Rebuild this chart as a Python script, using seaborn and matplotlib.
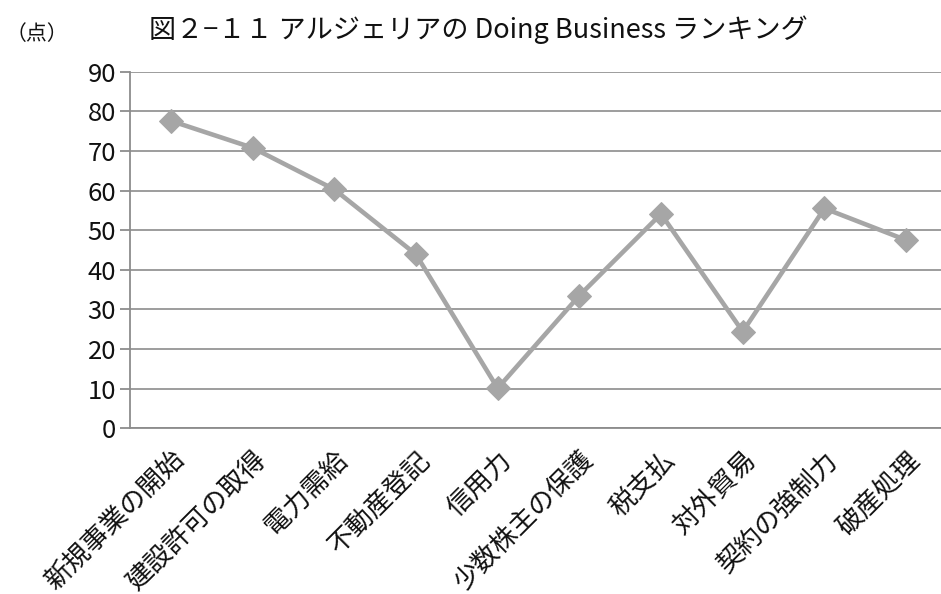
import matplotlib
matplotlib.use("Agg")
import matplotlib.pyplot as plt
import seaborn as sns
import pandas as pd
import numpy as np

categories = ["新規事業の開始", "建設許可の取得", "電力需給", "不動産登記", "信用力",
              "少数株主の保護", "税支払", "対外貿易", "契約の強制力", "破産処理"]
scores = [77.6, 70.8, 60.3, 43.9, 10.1, 33.5, 54.1, 24.4, 55.5, 47.5]
y_ticks = [0, 10, 20, 30, 40, 50, 60, 70, 80, 90]
title = "図２−１１ アルジェリアの Doing Business ランキング"
unit_label = "（点）"

sns.set_theme(style="white")
plt.rcParams['font.family'] = ['Noto Sans CJK JP', 'DejaVu Sans']

df = pd.DataFrame({"category": categories, "score": scores})

fig = plt.figure(figsize=(9.41, 5.94), dpi=100)
ax = fig.add_axes([130/941, 1 - 428.3/594, (947-130)/941, (428.3-71.7)/594])

sns.lineplot(data=df, x="category", y="score", sort=False, ax=ax,
             color="#a6a6a6", linewidth=3.3, marker="D", markersize=12,
             markeredgecolor="#a6a6a6", markerfacecolor="#a6a6a6")

ax.set_xlim(-0.5, len(categories) - 0.5)
ax.set_ylim(0, 90)
ax.set_yticks(y_ticks)
ax.set_yticklabels([str(v) for v in y_ticks], fontsize=18.5, color="#111111")
ax.set_xticks(range(len(categories)))
ax.set_xticklabels(categories, rotation=45, ha="right", rotation_mode="anchor",
                   fontsize=19, color="#111111")
ax.set_xticks(np.arange(-0.5, len(categories), 1.0), minor=True)
ax.tick_params(axis="x", which="major", length=0, pad=13)
ax.tick_params(axis="x", which="minor", length=7, width=1.3, color="#8c8c8c", direction="out")
ax.tick_params(axis="y", which="major", length=7, width=1.3, color="#8c8c8c",
               direction="out", left=True, pad=3)

ax.yaxis.grid(True, color="#8c8c8c", linewidth=1.2)
ax.xaxis.grid(False)
ax.set_axisbelow(True)
for s in ["top", "right"]:
    ax.spines[s].set_visible(False)
for s in ["left", "bottom"]:
    ax.spines[s].set_color("#8c8c8c")
    ax.spines[s].set_linewidth(1.3)
ax.set_xlabel("")
ax.set_ylabel("")

fig.text(478/941, 1 - 30/594, title, ha="center", va="center", fontsize=19.5, color="#111111")
fig.text(6/941, 1 - 34/594, unit_label, ha="left", va="center", fontsize=15, color="#111111")

fig.savefig("out.png", dpi=100)
